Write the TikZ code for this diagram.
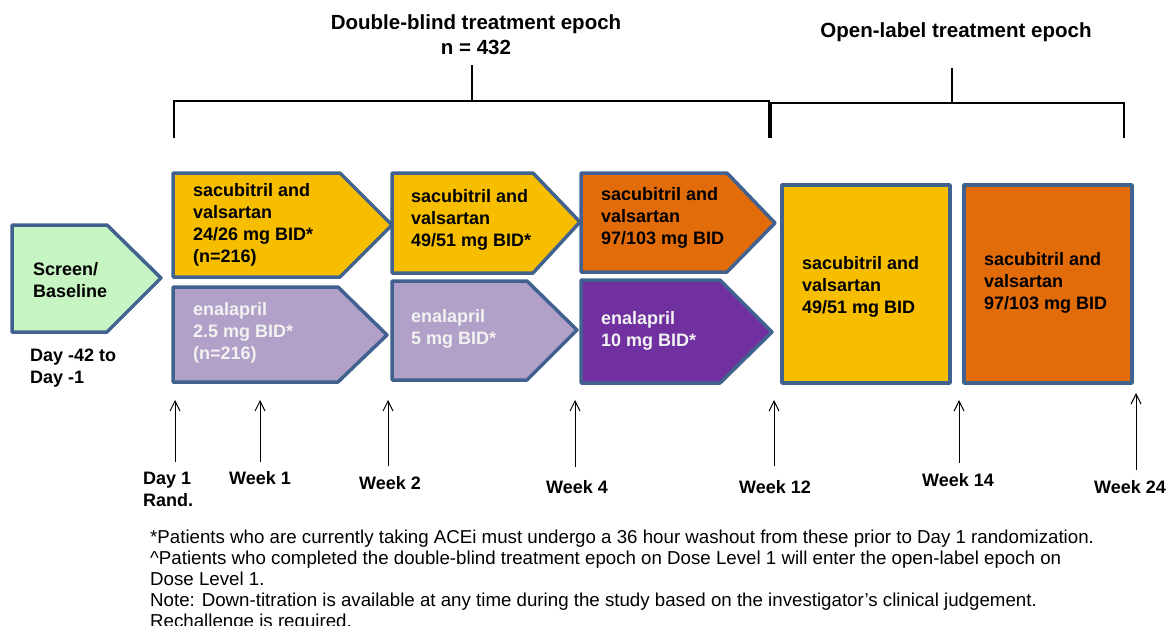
\documentclass[tikz,border=0pt]{standalone}
\usepackage{fontspec}
\setmainfont{Liberation Sans}
\usetikzlibrary{arrows.meta}

\definecolor{framebl}{RGB}{65,98,143}
\definecolor{screengr}{RGB}{198,244,194}
\definecolor{sacyel}{RGB}{247,190,0}
\definecolor{sacorg}{RGB}{226,108,10}
\definecolor{enalil}{RGB}{177,160,199}
\definecolor{enapur}{RGB}{112,48,160}
\definecolor{enatxt}{RGB}{242,242,242}

\newcommand{\dosefont}{\fontsize{18}{22}\selectfont}

\tikzset{
  frame/.style={draw=framebl,line width=3.5pt,line join=round},
  dose/.style={anchor=west,align=left,inner sep=0pt,font=\bfseries\dosefont},
  visit/.style={align=left,inner sep=0pt,font=\bfseries\dosefont},
  tick/.style={-{Straight Barb[length=10pt,width=10pt]},line width=1pt},
  brace/.style={line width=2pt}
}

\begin{document}
\begin{tikzpicture}[x=1pt,y=-1pt]
    \useasboundingbox (0,0) rectangle (1171,626);

    % epoch brackets
    \node[font=\bfseries\fontsize{20.5}{25}\selectfont,align=center] (dbhead) at (476,35)
      {Double-blind treatment epoch\\n = 432};
    \node[font=\bfseries\fontsize{20.5}{25}\selectfont] (olhead) at (956,32)
      {Open-label treatment epoch};
    \draw[brace] (174,138) -- (174,101) -- (769,101) -- (769,138);
    \draw[brace] (472,65) -- (472,101);
    \draw[brace] (771,138) -- (771,103) -- (1124,103) -- (1124,138);
    \draw[brace] (952,68) -- (952,103);

    % screening
    \draw[frame,fill=screengr] (12,225) -- (107,225) -- (161,278) -- (107,332) -- (12,332) -- cycle;
    \node[dose] (scr) at (33,280) {Screen/\\Baseline};
    \node[visit,anchor=west] (base) at (30,368) {Day -42 to\\Day -1};

    % double-blind, sacubitril and valsartan
    \draw[frame,fill=sacyel] (173,173) -- (340,173) -- (392,225) -- (340,277) -- (173,277) -- cycle;
    \draw[frame,fill=sacyel] (392,173) -- (533,173) -- (580,222) -- (533,273) -- (392,273) -- cycle;
    \draw[frame,fill=sacorg] (581,173) -- (727,173) -- (775,223) -- (727,272) -- (581,272) -- cycle;
    \node[dose] (sac1) at (193,225) {sacubitril and\\valsartan\\24/26 mg BID*\\(n=216)};
    \node[dose] (sac2) at (411,220) {sacubitril and\\valsartan\\49/51 mg BID*};
    \node[dose] (sac3) at (601,218) {sacubitril and\\valsartan\\97/103 mg BID};

    % double-blind, enalapril
    \draw[frame,fill=enalil] (173,287) -- (338,287) -- (387,335) -- (338,382) -- (173,382) -- cycle;
    \draw[frame,fill=enalil] (392,281) -- (527,281) -- (577,330) -- (527,380) -- (392,380) -- cycle;
    \draw[frame,fill=enapur] (581,280) -- (720,280) -- (772,332) -- (720,383) -- (581,383) -- cycle;
    \node[dose,text=enatxt] (ena1) at (193,333) {enalapril\\2.5 mg BID*\\(n=216)};
    \node[dose,text=enatxt] (ena2) at (411,329) {enalapril\\5 mg BID*};
    \node[dose,text=enatxt] (ena3) at (601,331) {enalapril\\10 mg BID*};

    % open-label
    \draw[frame,fill=sacyel] (782,185) rectangle (950,383);
    \draw[frame,fill=sacorg] (964,185) rectangle (1132,383);
    \node[dose] (ol1) at (802,287) {sacubitril and\\valsartan\\49/51 mg BID};
    \node[dose] (ol2) at (984,283) {sacubitril and\\valsartan\\97/103 mg BID};

    % visits
    \node[visit,anchor=west] (d1) at (143,489) {Day 1\\Rand.};
    \node[visit] (w1) at (260,478) {Week 1};
    \node[visit] (w2) at (390,483) {Week 2};
    \node[visit] (w4) at (577,487) {Week 4};
    \node[visit] (w12) at (775,487) {Week 12};
    \node[visit] (w14) at (958,480) {Week 14};
    \node[visit] (w24) at (1130,487) {Week 24};
    \foreach \x/\lo/\hi/\v in {175/462/400/d1,260/462/400/w1,388/466/400/w2,
        575/467/400/w4,774/466/400/w12,959/463/400/w14,1136/470/393/w24} {
      \coordinate (\v-lo) at (\x,\lo);
      \coordinate (\v-hi) at (\x,\hi);
      \draw[tick] (\v-lo) -- (\v-hi);
    }

    % footnotes
    \node[anchor=north west,align=left,inner sep=0pt,font=\fontsize{18.7}{21}\selectfont] (notes) at (150,530)
      {*Patients who are currently taking ACEi must undergo a 36 hour washout from these prior to Day 1 randomization.\\
       \textasciicircum Patients who completed the double-blind treatment epoch on Dose Level 1 will enter the open-label epoch on\\
       Dose Level 1.\\
       Note: Down-titration is available at any time during the study based on the investigator's clinical judgement.\\
       Rechallenge is required.};
\end{tikzpicture}
\end{document}
